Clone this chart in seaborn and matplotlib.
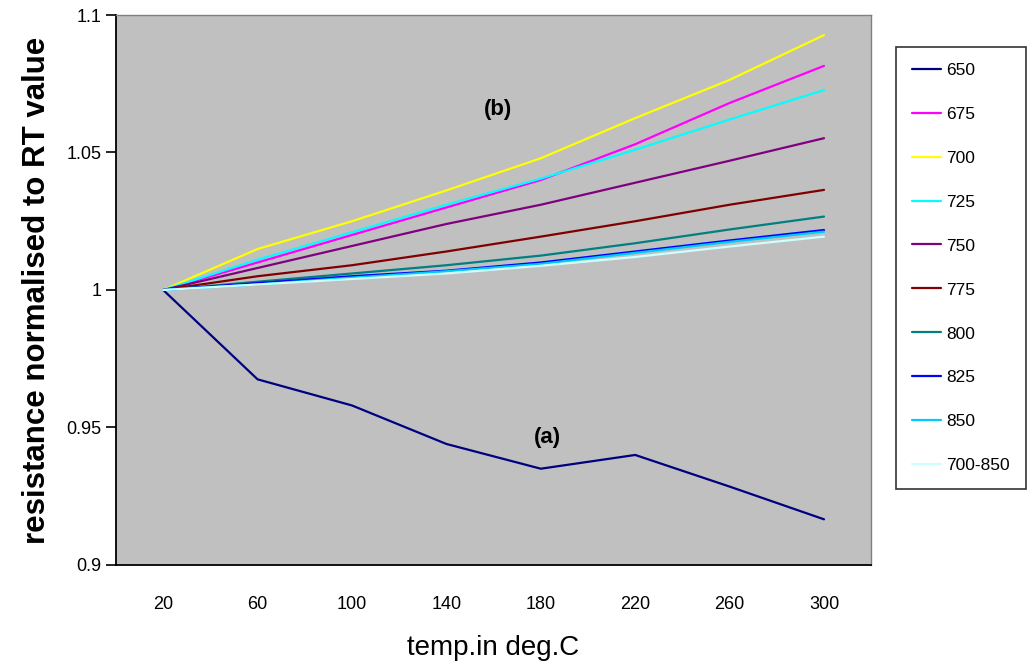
import numpy as np
import pandas as pd
import matplotlib
matplotlib.use('Agg')
import matplotlib.pyplot as plt
import seaborn as sns

# Temperatures (deg C) on the x axis
temps = ['20', '60', '100', '140', '180', '220', '260', '300']

# Normalised resistance for each anneal temperature
r650 = [1.0, 0.9675, 0.958, 0.944, 0.935, 0.940, 0.9285, 0.9166]
r675 = [1.0, 1.010, 1.020, 1.030, 1.040, 1.053, 1.068, 1.0815]
r700 = [1.0, 1.0149, 1.0250, 1.0362, 1.0479, 1.0625, 1.0764, 1.0927]
r725 = [1.0, 1.011, 1.021, 1.031, 1.0405, 1.051, 1.062, 1.0727]
r750 = [1.0, 1.008, 1.016, 1.024, 1.031, 1.039, 1.047, 1.0552]
r775 = [1.0, 1.005, 1.009, 1.014, 1.0194, 1.025, 1.031, 1.0364]
r800 = [1.0, 1.003, 1.006, 1.009, 1.0125, 1.017, 1.022, 1.0267]
r825 = [1.0, 1.0025, 1.005, 1.007, 1.010, 1.014, 1.018, 1.0218]
r850 = [1.0, 1.002, 1.0045, 1.0068, 1.0095, 1.0135, 1.0175, 1.0212]
r700_850 = [1.0, 1.002, 1.004, 1.006, 1.0088, 1.012, 1.0158, 1.0194]

series = {
    '650': r650, '675': r675, '700': r700, '725': r725, '750': r750,
    '775': r775, '800': r800, '825': r825, '850': r850, '700-850': r700_850,
}
colors = {
    '650': '#000080', '675': '#FF00FF', '700': '#FFFF00', '725': '#00FFFF',
    '750': '#800080', '775': '#800000', '800': '#008080', '825': '#0000FF',
    '850': '#00CCFF', '700-850': '#CCFFFF',
}

rows = []
for name, vals in series.items():
    for t, v in zip(temps, vals):
        rows.append({'temp': t, 'value': v, 'series': name})
df = pd.DataFrame(rows)

sns.set_style('white')
plt.rcParams['font.family'] = ['Liberation Sans Narrow', 'Liberation Sans', 'DejaVu Sans']
plt.rcParams['text.color'] = 'black'
plt.rcParams['axes.labelcolor'] = 'black'
plt.rcParams['xtick.color'] = 'black'
plt.rcParams['ytick.color'] = 'black'

fig = plt.figure(figsize=(10.31, 6.67), dpi=100)
ax = fig.add_axes([0.1125, 0.153, 0.7325, 0.8245])
ax.set_facecolor('#C0C0C0')

sns.lineplot(data=df, x='temp', y='value', hue='series', hue_order=list(series.keys()),
             palette=colors, linewidth=1.6, sort=False, ax=ax)

ax.set_xlim(-0.5, len(temps) - 0.5)
ax.set_ylim(0.9, 1.1)
ax.set_yticks([0.9, 0.95, 1.0, 1.05, 1.1])
ax.set_yticklabels(['0.9', '0.95', '1', '1.05', '1.1'], fontsize=13)
ax.set_xticks(range(len(temps)))
ax.set_xticklabels(temps, fontsize=13)
ax.set_xticks(np.arange(-0.5, len(temps)), minor=True)
ax.tick_params(axis='x', which='major', length=0, pad=22)
ax.tick_params(axis='x', which='minor', length=7, width=1.2, direction='out', color='black')
ax.tick_params(axis='y', length=7, width=1.2, direction='out', color='black', left=True)

for s in ['top', 'right']:
    ax.spines[s].set_color('#808080')
    ax.spines[s].set_linewidth(1)
for s in ['left', 'bottom']:
    ax.spines[s].set_color('black')
    ax.spines[s].set_linewidth(1.3)

ax.set_xlabel('temp.in deg.C', fontsize=20, labelpad=16)
ax.set_ylabel('resistance normalised to RT value', fontsize=22.5, fontweight='bold', labelpad=10)

ax.text(3.55, 1.0655, '(b)', fontsize=16, fontweight='bold', ha='center', va='center')
ax.text(4.07, 0.9465, '(a)', fontsize=16, fontweight='bold', ha='center', va='center')

leg = ax.legend(loc='upper left', bbox_to_anchor=(1.033, 0.942), frameon=True, fancybox=False,
                edgecolor='black', fontsize=12.5, handlelength=1.7, labelspacing=1.66,
                borderpad=0.9, handletextpad=0.3, borderaxespad=0)
leg.get_frame().set_linewidth(1.2)
for line in leg.get_lines():
    line.set_linewidth(1.6)

fig.savefig('out.png', dpi=100)
